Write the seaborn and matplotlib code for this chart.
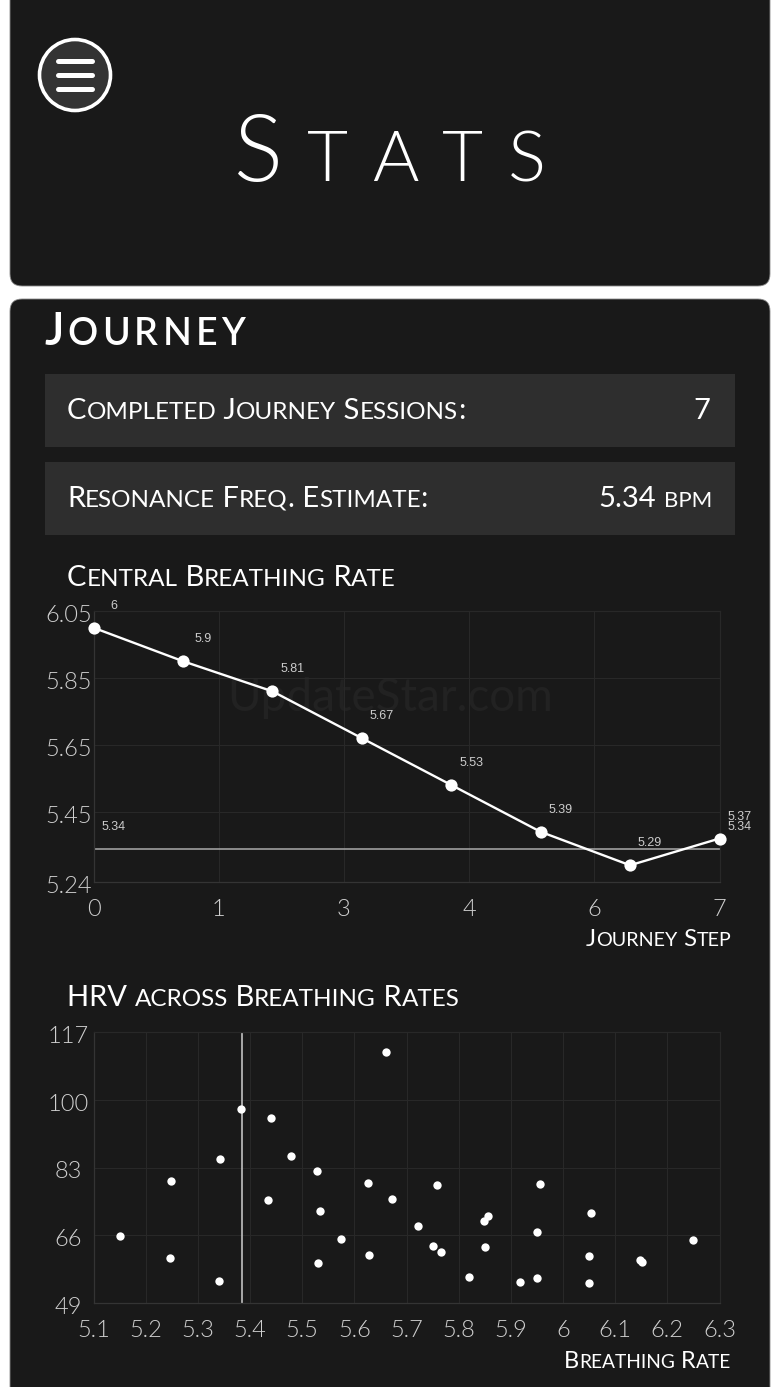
import matplotlib
matplotlib.use("Agg")
import matplotlib.pyplot as plt
import seaborn as sns
from matplotlib.patches import FancyBboxPatch, Circle, Rectangle
from matplotlib.transforms import ScaledTranslation

# Central breathing rate per journey step
journey_steps = [0, 1, 2, 3, 4, 5, 6, 7]
journey_rates = [6, 5.9, 5.81, 5.67, 5.53, 5.39, 5.29, 5.37]
journey_xticks = [0, 1.4, 2.8, 4.2, 5.6, 7]
journey_xlabels = ['0', '1', '3', '4', '6', '7']
journey_yticks = [5.24, 5.45, 5.65, 5.85, 6.05]
journey_ylabels = ['5.24', '5.45', '5.65', '5.85', '6.05']
resonance = 5.34

# HRV scatter
hrv_rates = [5.151, 5.246, 5.249, 5.341, 5.343, 5.382, 5.44, 5.435, 5.479, 5.529,
             5.534, 5.53, 5.575, 5.626, 5.629, 5.66, 5.672, 5.758, 5.723, 5.751,
             5.767, 5.82, 5.857, 5.849, 5.85, 5.918, 5.95, 5.95, 5.955, 6.053,
             6.05, 6.049, 6.148, 6.152, 6.25]
hrv_values = [65.8, 60.2, 79.5, 54.5, 85.1, 97.8, 95.4, 74.9, 85.8, 82.2,
              72, 59, 65.1, 79.1, 61, 112, 75.2, 78.6, 68.4, 63.3,
              61.7, 55.4, 70.9, 69.6, 63.1, 54.3, 55.3, 66.8, 78.9, 71.7,
              60.7, 54, 59.7, 59.3, 64.8]
hrv_xticks = [5.1, 5.2, 5.3, 5.4, 5.5, 5.6, 5.7, 5.8, 5.9, 6, 6.1, 6.2, 6.3]
hrv_xlabels = ['5.1', '5.2', '5.3', '5.4', '5.5', '5.6', '5.7', '5.8', '5.9', '6', '6.1', '6.2', '6.3']
hrv_yticks = [49, 66, 83, 100, 117]
resonance_hrv = 5.385

CARD = '#191919'
W, H = 780, 1387

sns.set_theme(style='dark')
plt.rcParams['font.family'] = ['Lato', 'DejaVu Sans']

fig = plt.figure(figsize=(W / 100, H / 100), dpi=100, facecolor='white')

# background layer in pixel coordinates
bg = fig.add_axes([0, 0, 1, 1], zorder=0)
bg.set_xlim(0, W)
bg.set_ylim(H, 0)
bg.axis('off')
renderer = fig.canvas.get_renderer()


def card(x0, y0, x1, y1):
    bg.add_patch(FancyBboxPatch((x0 + 12, y0 + 12), x1 - x0 - 24, y1 - y0 - 24,
                                boxstyle='round,pad=12,rounding_size=12',
                                fc=CARD, ec='#8a8a8a', lw=0.6))


# small caps are not in the fonts, so draw upper and lower runs at two sizes
def small_caps(x, y, text, big, small, weight='normal', color='white', spacing=0, per_char=False):
    runs = []
    for ch in text:
        is_small = ch.islower()
        if runs and runs[-1][1] == is_small and not per_char:
            runs[-1][0] += ch
        else:
            runs.append([ch, is_small])
    for run, is_small in runs:
        t = bg.text(x, y, run.upper(), fontsize=small if is_small else big, color=color,
                    fontweight=weight, va='baseline', ha='left')
        x += t.get_window_extent(renderer).width + spacing
    return x


card(10, -40, 770, 286)
card(10, 299, 770, 1440)

# menu button
bg.add_patch(Circle((75, 75), 35.5, fc='#333333', ec='white', lw=2.6))
for yy in [61, 75, 89]:
    bg.plot([58, 92], [yy, yy], color='white', lw=3.6, solid_capstyle='round')

small_caps(234, 181, 'Stats', 66, 51, weight=300, spacing=24, per_char=True)
small_caps(44, 345, 'Journey', 33, 27, weight=600, spacing=4.2, per_char=True)

# stat rows
for top, bottom in [(374, 447), (462, 535)]:
    bg.add_patch(Rectangle((45, top), 690, bottom - top, fc='#2e2e2e', ec='none'))
small_caps(67, 419, 'Completed Journey Sessions:', 21, 17.5)
bg.text(710, 419, '7', color='white', fontsize=21, ha='right', va='baseline')
small_caps(67, 507, 'Resonance Freq. Estimate:', 21, 17.5)
bg.text(656, 507, '5.34', color='white', fontsize=21, ha='right', va='baseline')
small_caps(664, 507, 'bpm', 20, 16)

small_caps(67, 586, 'Central Breathing Rate', 21, 17.5)
small_caps(67, 1006, 'HRV across Breathing Rates', 21, 17.5)
small_caps(586, 946, 'Journey Step', 17.2, 14.2)
small_caps(564, 1368, 'Breathing Rate', 17, 13.8)

# faint watermark behind the first chart
bg.text(390, 711, 'UpdateStar.com', color='#222222', fontsize=33, ha='center', va='baseline')


def style_axes(ax, xticks, xlabels, yticks, ylabels):
    ax.set_facecolor('none')
    ax.set_xticks(xticks)
    ax.set_xticklabels(xlabels)
    ax.set_yticks(yticks)
    ax.set_yticklabels(ylabels, ha='center')
    ax.set(xlabel='', ylabel='')
    ax.grid(True, color='#282828', lw=0.8)
    ax.set_axisbelow(True)
    ax.tick_params(axis='x', length=0, pad=12.5, labelsize=17, labelcolor='#cfcfcf')
    ax.tick_params(axis='y', length=0, pad=18, labelsize=17, labelcolor='#cfcfcf')
    for label in ax.get_xticklabels() + ax.get_yticklabels():
        label.set_fontweight(300)
    # y labels sit a little below their gridlines
    shift = ScaledTranslation(0, -2.5 / 100, fig.dpi_scale_trans)
    for label in ax.get_yticklabels():
        label.set_transform(label.get_transform() + shift)
    for side, spine in ax.spines.items():
        spine.set_visible(True)
        spine.set_color('#343434' if side in ('left', 'bottom') else '#282828')
        spine.set_linewidth(0.9)


# Central breathing rate chart
ax1 = fig.add_axes([93.5 / W, 1 - 882 / H, 626 / W, 271 / H], zorder=1)
ax1.axhline(resonance, color='#aaaaaa', lw=1.1)
sns.lineplot(x=journey_steps, y=journey_rates, ax=ax1, color='white', lw=1.7, marker='o',
             markersize=8.8, markeredgewidth=0, estimator=None, clip_on=False, zorder=3)
ax1.set_xlim(0, 7)
ax1.set_ylim(5.24, 6.05)
style_axes(ax1, journey_xticks, journey_xlabels, journey_yticks, journey_ylabels)

for x, y in zip(journey_steps, journey_rates):
    ax1.annotate(f'{y:g}', (x, y), xytext=(14.4, 15.8), textcoords='offset points', ha='center', va='center',
                 fontsize=9, color='#cccccc', family='Liberation Sans', annotation_clip=False)
for x in [0, 7]:
    ax1.annotate(f'{resonance:g}', (x, resonance), xytext=(14.4, 15.8), textcoords='offset points', ha='center',
                 va='center', fontsize=9, color='#cccccc', family='Liberation Sans', annotation_clip=False)

# HRV chart
ax2 = fig.add_axes([93.5 / W, 1 - 1303 / H, 626 / W, 271 / H], zorder=1)
ax2.axvline(resonance_hrv, color='#cfcfcf', lw=1.1)
sns.scatterplot(x=hrv_rates, y=hrv_values, ax=ax2, color='white', s=36, linewidth=0, zorder=3)
ax2.set_xlim(5.1, 6.3)
ax2.set_ylim(49, 117)
style_axes(ax2, hrv_xticks, hrv_xlabels, hrv_yticks, [str(v) for v in hrv_yticks])

fig.savefig('out.png', dpi=100, facecolor=fig.get_facecolor())
